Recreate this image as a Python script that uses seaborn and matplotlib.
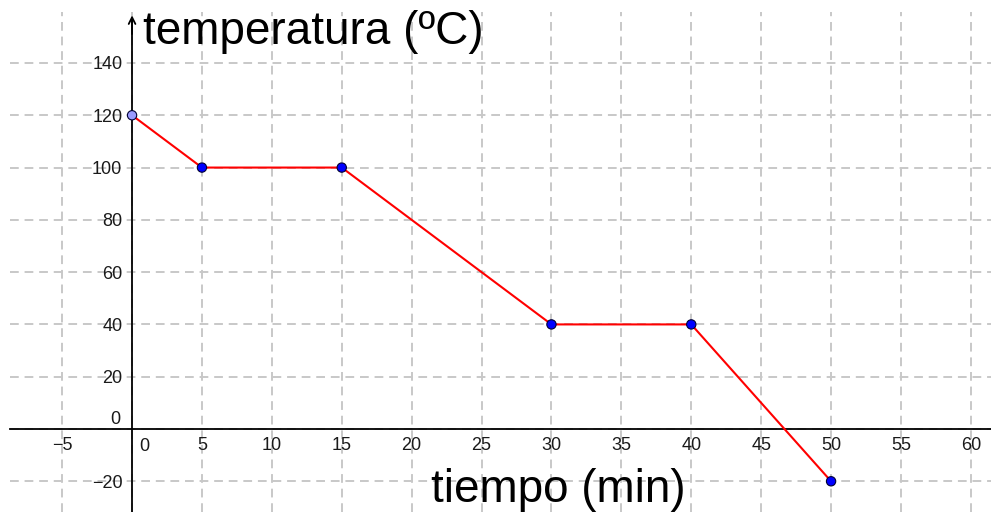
import matplotlib
matplotlib.use("Agg")
import matplotlib.pyplot as plt
import seaborn as sns
import pandas as pd

# datos
tiempo = [0, 5, 15, 30, 40, 50]
temperatura = [120, 100, 100, 40, 40, -20]
color_puntos = ["#9a9aff", "#0000ff", "#0000ff", "#0000ff", "#0000ff", "#0000ff"]

x_ticks = [-5, 5, 10, 15, 20, 25, 30, 35, 40, 45, 50, 55, 60]
y_ticks = [-20, 20, 40, 60, 80, 100, 120, 140]

sns.set_theme(style="white")
plt.rcParams['font.family'] = ['Liberation Sans', 'DejaVu Sans']
plt.rcParams['axes.unicode_minus'] = True
plt.rcParams['text.color'] = 'black'

df = pd.DataFrame({'tiempo': tiempo, 'temperatura': temperatura})

fig = plt.figure(figsize=(9.91, 5.12), dpi=100)
ax = fig.add_axes([10 / 991, 0, 981 / 991, 500 / 512])

ax.set_xlim(-8.73, 61.44)
ax.set_ylim(-31.75, 159.5)

# rejilla
for xv in range(-5, 65, 5):
    ax.axvline(xv, color='#c8c8c8', lw=1.4, ls=(0, (4.5, 3)), zorder=0)
for yv in range(-20, 160, 20):
    ax.axhline(yv, color='#c8c8c8', lw=1.4, ls=(0, (4.5, 3)), zorder=0)

sns.lineplot(data=df, x='tiempo', y='temperatura', color='#ff0000', lw=1.5, ax=ax, zorder=3)
sns.scatterplot(data=df, x='tiempo', y='temperatura', hue=df.index.astype(str),
                palette=color_puntos, s=45, edgecolor='#000033', linewidth=0.8,
                legend=False, ax=ax, zorder=4)

# ejes en el origen
for s in ['top', 'right']:
    ax.spines[s].set_visible(False)
ax.spines['left'].set_position(('data', 0))
ax.spines['bottom'].set_position(('data', 0))
ax.spines['left'].set_color('black')
ax.spines['bottom'].set_color('black')
ax.spines['left'].set_linewidth(1.3)
ax.spines['bottom'].set_linewidth(1.3)
ax.spines['left'].set_bounds(-31.75, 157)

ax.set_xticks(x_ticks)
ax.set_yticks(y_ticks)
ax.set_xticklabels([str(v).replace('-', '\u2212') for v in x_ticks])
ax.set_yticklabels([str(v).replace('-', '\u2212') for v in y_ticks])
ax.tick_params(axis='x', direction='inout', length=6, width=1.2, pad=3,
               labelsize=13, colors='black', labelcolor='#1a1a1a')
ax.tick_params(axis='y', direction='out', length=4, width=1.2, pad=3,
               labelsize=13, colors='black', labelcolor='#1a1a1a')
ax.set_xlabel('')
ax.set_ylabel('')

# ceros
ax.text(0.55, -6.8, '0', fontsize=13, color='#1a1a1a', ha='left', va='center')
ax.text(-0.85, 3.5, '0', fontsize=13, color='#1a1a1a', ha='right', va='center')

# flecha del eje y
ax.annotate('', xy=(0, 159.3), xytext=(0, 150), annotation_clip=False,
            arrowprops=dict(arrowstyle='->', color='black', lw=1.3, mutation_scale=12))

ax.text(0.75, 152, 'temperatura (ºC)', fontsize=33, color='black', ha='left', va='center')
ax.text(30.5, -23.5, 'tiempo (min)', fontsize=33, color='black', ha='center', va='center')

fig.savefig('out.png', dpi=100)
